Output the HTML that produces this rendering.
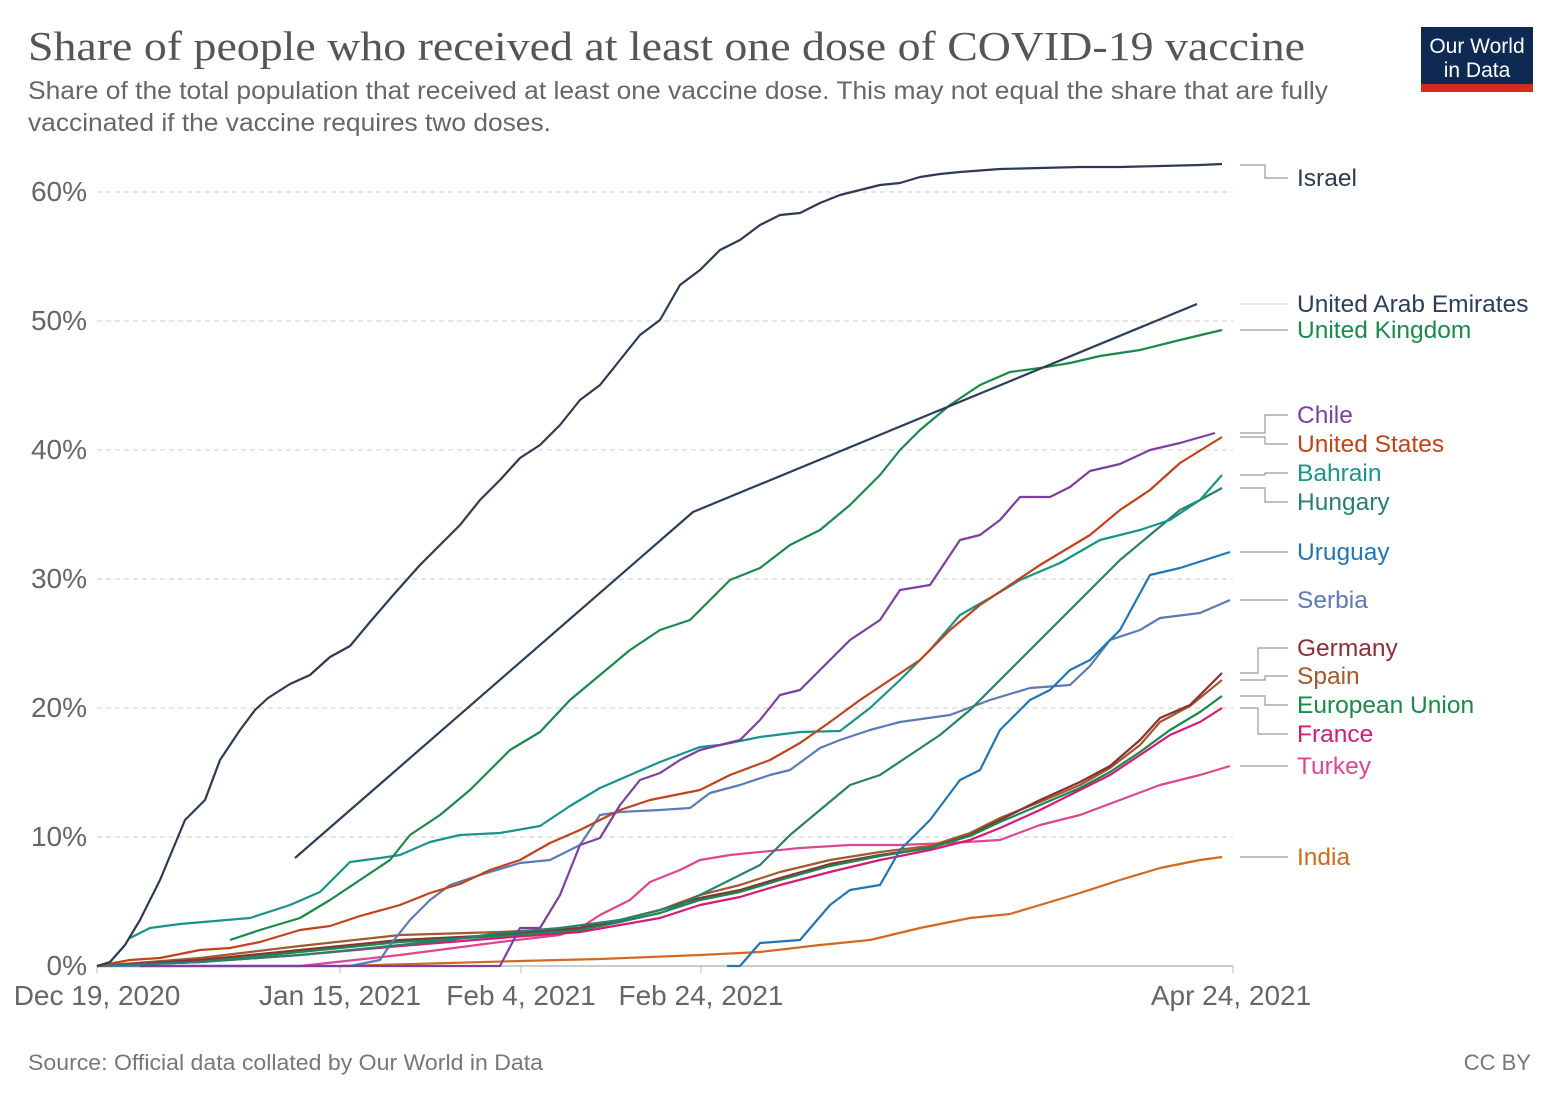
<!DOCTYPE html>
<html><head><meta charset="utf-8"><style>
html,body{margin:0;padding:0;background:#fff;}
svg{display:block;}
</style></head><body>
<svg width="1561" height="1102" viewBox="0 0 1561 1102" xmlns="http://www.w3.org/2000/svg" font-family="Liberation Sans, sans-serif">
<rect width="1561" height="1102" fill="#fff"/>
<text x="28" y="60" style="font-family:'Liberation Serif',serif" font-size="41" fill="#555" textLength="1277" lengthAdjust="spacingAndGlyphs">Share of people who received at least one dose of COVID-19 vaccine</text>
<text x="28" y="99" font-size="25" fill="#666" textLength="1300" lengthAdjust="spacingAndGlyphs">Share of the total population that received at least one vaccine dose. This may not equal the share that are fully</text>
<text x="28" y="131" font-size="25" fill="#666" textLength="523" lengthAdjust="spacingAndGlyphs">vaccinated if the vaccine requires two doses.</text>
<rect x="1421" y="27" width="112" height="57" fill="#0e2a52"/>
<rect x="1421" y="84" width="112" height="8" fill="#d42b21"/>
<text x="1477" y="53" font-size="21" fill="#fff" text-anchor="middle">Our World</text>
<text x="1477" y="77" font-size="21" fill="#fff" text-anchor="middle">in Data</text>
<g stroke="#ccc" stroke-dasharray="5,4" stroke-width="1">
<line x1="97" y1="192" x2="1233" y2="192"/><line x1="97" y1="321" x2="1233" y2="321"/>
<line x1="97" y1="450" x2="1233" y2="450"/><line x1="97" y1="579" x2="1233" y2="579"/>
<line x1="97" y1="708" x2="1233" y2="708"/><line x1="97" y1="837" x2="1233" y2="837"/>
</g>
<line x1="97" y1="966" x2="1233" y2="966" stroke="#bbb" stroke-width="1.5"/>
<g stroke="#bbb"><line x1="97" y1="966" x2="97" y2="973"/><line x1="340" y1="966" x2="340" y2="973"/><line x1="521" y1="966" x2="521" y2="973"/><line x1="701" y1="966" x2="701" y2="973"/><line x1="1233" y1="966" x2="1233" y2="973"/></g>
<g font-size="28" fill="#666" text-anchor="end">
<text x="87" y="201">60%</text><text x="87" y="330">50%</text><text x="87" y="459">40%</text>
<text x="87" y="588">30%</text><text x="87" y="717">20%</text><text x="87" y="846">10%</text><text x="87" y="975">0%</text>
</g>
<g font-size="28" fill="#666" text-anchor="middle">
<text x="97" y="1005">Dec 19, 2020</text><text x="340" y="1005">Jan 15, 2021</text><text x="521" y="1005">Feb 4, 2021</text>
<text x="701" y="1005">Feb 24, 2021</text><text x="1231" y="1005">Apr 24, 2021</text>
</g>
<text x="28" y="1070" font-size="22" fill="#777" textLength="515" lengthAdjust="spacingAndGlyphs">Source: Official data collated by Our World in Data</text>
<text x="1531" y="1070" font-size="22" fill="#777" text-anchor="end">CC BY</text>
<g fill="none" stroke-width="2.2" stroke-linejoin="round">
<polyline stroke="#d2691e" points="340,966 520,961 600,959 700,955 760,952 820,945 870,940 920,928 970,918 1010,914 1040,905 1080,893 1120,880 1160,868 1200,860 1222,857"/>
<polyline stroke="#e0458f" points="97,966 300,966 400,955 500,942 560,935 580,928 600,915 630,900 650,882 680,870 700,860 730,855 800,848 850,845 900,845 950,843 1000,840 1040,825 1080,815 1120,800 1160,785 1200,775 1230,766"/>
<polyline stroke="#d6197a" points="97,966 200,962 300,955 400,946 500,938 580,932 620,925 660,918 700,905 740,897 780,885 830,872 880,860 930,850 970,840 1000,828 1040,810 1080,790 1110,775 1140,755 1170,735 1200,722 1222,708"/>
<polyline stroke="#a05a2c" points="97,966 200,958 300,946 400,935 500,932 580,928 620,920 660,910 700,895 740,885 780,872 830,860 880,852 930,846 970,833 1000,818 1040,802 1080,785 1110,768 1140,745 1160,722 1190,706 1222,680"/>
<polyline stroke="#8b2e3a" points="97,966 200,960 300,950 400,940 500,935 580,928 620,920 660,910 700,898 740,890 780,878 830,864 880,855 930,848 970,835 1000,820 1040,800 1080,782 1110,766 1140,740 1160,718 1190,705 1222,673"/>
<polyline stroke="#1a8a4a" points="97,966 200,962 300,952 400,942 500,936 580,930 620,922 660,913 700,900 740,892 780,880 830,866 880,856 930,848 970,836 1000,822 1040,805 1080,788 1110,772 1140,752 1170,730 1200,712 1222,696"/>
<polyline stroke="#5b7bb4" points="97,966 350,966 380,960 390,945 410,920 430,900 450,885 480,875 520,863 550,860 580,845 600,815 620,812 660,810 690,808 710,793 740,785 770,775 790,770 820,748 840,740 870,730 900,722 950,715 990,700 1030,688 1070,685 1090,666 1110,640 1140,630 1160,618 1200,613 1230,600"/>
<polyline stroke="#1f78b4" points="727,966 740,966 760,943 800,940 830,905 850,890 880,885 900,850 930,820 960,780 980,770 1000,730 1030,700 1050,690 1070,670 1090,660 1120,630 1150,575 1180,568 1230,552"/>
<polyline stroke="#2a7f6f" points="97,966 200,962 300,955 400,945 450,940 500,933 560,928 620,920 680,905 720,885 760,865 790,835 820,810 850,785 880,775 910,755 940,735 970,710 1000,680 1030,650 1060,620 1090,590 1120,560 1150,535 1180,510 1200,500 1222,488"/>
<polyline stroke="#19938d" points="130,938 150,928 180,924 250,918 290,905 320,892 350,862 380,858 400,855 430,842 460,835 500,833 540,826 570,806 600,788 630,775 660,762 700,747 720,745 760,737 800,732 840,731 870,708 900,680 930,650 960,615 990,598 1020,580 1060,563 1100,540 1140,530 1170,520 1200,500 1222,475"/>
<polyline stroke="#c0431a" points="97,966 130,960 160,958 200,950 230,948 260,942 300,930 330,926 360,916 400,905 430,893 460,884 490,870 520,860 550,843 580,830 620,810 650,800 700,790 730,775 770,760 800,743 830,722 860,700 890,680 920,660 950,630 980,605 1010,585 1040,565 1060,553 1090,535 1120,510 1150,490 1180,463 1222,437"/>
<polyline stroke="#7d3fa0" points="140,966 500,966 520,928 540,928 560,895 580,845 600,838 620,805 640,780 660,773 680,760 700,750 740,740 760,720 780,695 800,690 820,670 850,640 880,620 900,590 930,585 960,540 980,535 1000,520 1020,497 1050,497 1070,487 1090,471 1120,464 1150,450 1180,443 1215,433"/>
<polyline stroke="#1a8a4a" points="230,940 260,930 300,918 330,900 360,880 390,860 410,835 440,815 470,790 490,770 510,750 540,732 570,700 600,675 630,650 660,630 690,620 710,600 730,580 760,568 790,545 820,530 850,505 880,475 900,450 920,430 950,405 980,385 1010,372 1040,368 1070,363 1100,356 1140,350 1180,340 1222,330"/>
<polyline stroke="#2c3e5c" points="295,858 693,512 1197,304"/>
<polyline stroke="#2d3a55" points="97,966 110,962 125,945 140,920 160,880 185,820 205,800 220,760 240,730 255,710 268,698 290,684 310,675 330,657 350,646 370,622 395,593 420,565 440,545 460,525 480,500 500,480 520,458 540,445 560,425 580,400 600,385 620,360 640,335 660,320 680,285 700,270 720,250 740,240 760,225 780,215 800,213 820,203 840,195 860,190 880,185 900,183 920,177 940,174 960,172 1000,169 1040,168 1080,167 1120,167 1160,166 1200,165 1222,164"/>
</g>
<g fill="none" stroke="#999" stroke-width="1.2">
<polyline points="1240,165 1265,165 1265,178 1288,178"/>
<line x1="1240" y1="304" x2="1288" y2="304" stroke="#ddd"/>
<line x1="1240" y1="330" x2="1288" y2="330"/>
<polyline points="1240,433 1265,433 1265,415 1288,415"/>
<polyline points="1240,437 1265,437 1265,444 1288,444"/>
<polyline points="1240,475 1265,475 1265,473 1288,473"/>
<polyline points="1240,488 1265,488 1265,502 1288,502"/>
<line x1="1240" y1="552" x2="1288" y2="552"/>
<line x1="1240" y1="600" x2="1288" y2="600"/>
<polyline points="1240,673 1258,673 1258,648 1288,648"/>
<polyline points="1240,680 1265,680 1265,676 1288,676"/>
<polyline points="1240,696 1265,696 1265,705 1288,705"/>
<polyline points="1240,708 1258,708 1258,734 1288,734"/>
<line x1="1240" y1="766" x2="1288" y2="766"/>
<line x1="1240" y1="857" x2="1288" y2="857"/>
</g>
<g font-size="24.5">
<text x="1297" y="186" fill="#2d3a55">Israel</text>
<text x="1297" y="312" fill="#2c3e5c">United Arab Emirates</text>
<text x="1297" y="338" fill="#1a8a4a">United Kingdom</text>
<text x="1297" y="423" fill="#7d3fa0">Chile</text>
<text x="1297" y="452" fill="#c0431a">United States</text>
<text x="1297" y="481" fill="#19938d">Bahrain</text>
<text x="1297" y="510" fill="#2a7f6f">Hungary</text>
<text x="1297" y="560" fill="#1f78b4">Uruguay</text>
<text x="1297" y="608" fill="#5b7bb4">Serbia</text>
<text x="1297" y="656" fill="#8b2e3a">Germany</text>
<text x="1297" y="684" fill="#a05a2c">Spain</text>
<text x="1297" y="713" fill="#1a8a4a">European Union</text>
<text x="1297" y="742" fill="#d6197a">France</text>
<text x="1297" y="774" fill="#e0458f">Turkey</text>
<text x="1297" y="865" fill="#d2691e">India</text>
</g>
</svg>
</body></html>
